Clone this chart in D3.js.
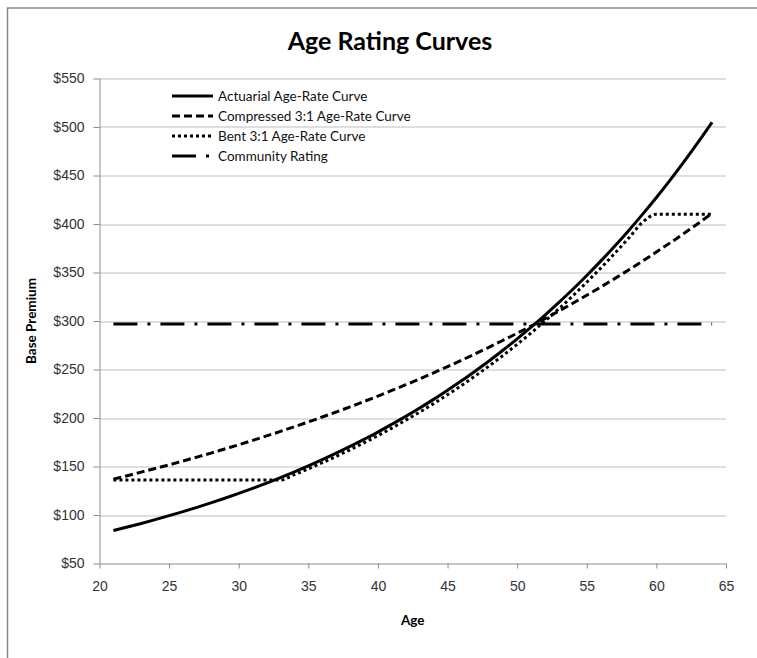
<!DOCTYPE html>
<html>
<head>
<meta charset="utf-8">
<script src="https://cdn.jsdelivr.net/npm/d3@7"></script>
<style>
  body { margin: 0; background: #fff; }
  svg { display: block; font-family: Lato, "Open Sans", sans-serif; }
  .axis path, .axis line { stroke: #8c8c8c; }
  .axis text { fill: #333; font-size: 14px; }
</style>
</head>
<body>
<div></div>
<script>
// ages 21..64
var ages = d3.range(21, 65);

var actuarial = [84.0, 87.6, 91.3, 95.2, 99.3, 103.5, 107.9, 112.5, 117.3, 122.3,
    127.5, 132.9, 138.6, 144.5, 150.6, 157.0, 163.7, 170.7, 178.0, 185.5,
    193.5, 201.7, 210.3, 219.2, 228.6, 238.3, 248.5, 259.0, 270.1, 281.6,
    293.6, 306.1, 319.1, 332.7, 346.9, 361.7, 377.1, 393.1, 409.9, 427.3,
    445.5, 464.5, 484.3, 504.9];

var compressed = [137.0, 140.5, 144.2, 147.9, 151.7, 155.7, 159.7, 163.8, 168.1, 172.4,
    176.9, 181.5, 186.2, 191.0, 195.9, 201.0, 206.2, 211.5, 217.0, 222.6,
    228.4, 234.3, 240.3, 246.6, 252.9, 259.5, 266.2, 273.1, 280.2, 287.4,
    294.8, 302.5, 310.3, 318.3, 326.6, 335.0, 343.7, 352.6, 361.7, 371.1,
    380.7, 390.5, 400.6, 411.0];

var bent = [136, 136, 136, 136, 136, 136, 136, 136, 136, 136,
    136, 136, 136, 141.6, 147.6, 153.9, 160.4, 167.3, 174.4, 181.8,
    189.6, 197.7, 206.1, 214.8, 224.0, 233.5, 243.5, 253.8, 264.7, 276.0,
    287.7, 300.0, 312.7, 326.0, 340.0, 354.5, 369.6, 385.2, 401.7, 410,
    410, 410, 410, 410];

var community = [297, 297, 297, 297, 297, 297, 297, 297, 297, 297,
    297, 297, 297, 297, 297, 297, 297, 297, 297, 297,
    297, 297, 297, 297, 297, 297, 297, 297, 297, 297,
    297, 297, 297, 297, 297, 297, 297, 297, 297, 297,
    297, 297, 297, 297];

var seriesNames = ["Actuarial Age-Rate Curve", "Compressed 3:1 Age-Rate Curve",
    "Bent 3:1 Age-Rate Curve", "Community Rating"];
var xTicks = [20, 25, 30, 35, 40, 45, 50, 55, 60, 65];
var yTicks = [50, 100, 150, 200, 250, 300, 350, 400, 450, 500, 550];

var widthSvg = 757,
    heightSvg = 658;

var svg = d3.select("div").append("svg")
    .attr("width", widthSvg)
    .attr("height", heightSvg),
    margin = {
        top: 78.5,
        right: 31,
        bottom: 94.5,
        left: 99.5
    },
    width = widthSvg - margin.left - margin.right,
    height = heightSvg - margin.top - margin.bottom,
    g = svg.append("g").attr("transform",
        "translate(" + margin.left + "," + margin.top + ")");

// chart frame
svg.append("rect")
    .attr("x", 7.5)
    .attr("y", 8)
    .attr("width", 900)
    .attr("height", 900)
    .attr("fill", "none")
    .attr("stroke", "#8a8a8a")
    .attr("stroke-width", 1.5);

var xScale = d3.scaleLinear()
    .domain([20, 65])
    .range([0, width]);

var yScale = d3.scaleLinear()
    .domain([50, 550])
    .range([height, 0]);

// gridlines
g.append("g")
    .selectAll("line")
    .data(yTicks.slice(1))
    .enter().append("line")
    .attr("x1", 0)
    .attr("x2", width)
    .attr("y1", function (d) { return Math.round(yScale(d)) + 0.5; })
    .attr("y2", function (d) { return Math.round(yScale(d)) + 0.5; })
    .attr("stroke", "#bebebe");

g.append("g")
    .attr("class", "axis")
    .call(d3.axisLeft(yScale).tickValues(yTicks).tickSize(6).tickPadding(9)
        .tickFormat(function (d) { return "$" + d; }))
    .call(function (a) { a.select(".domain").attr("d", "M0.5," + height + "V0"); });

g.append("g")
    .attr("class", "axis")
    .attr("transform", "translate(0," + height + ")")
    .call(d3.axisBottom(xScale).tickValues(xTicks).tickSize(5).tickPadding(13))
    .call(function (a) { a.select(".domain").attr("d", "M0," + 0.5 + "H" + width); });

var line = d3.line()
    .curve(d3.curveMonotoneX)
    .x(function (d) { return xScale(d[0]); })
    .y(function (d) { return yScale(d[1]); });

var styles = [
    { dash: null },
    { dash: "8,4" },
    { dash: "3,3" },
    { dash: "24,10,3,10" }
];
var allSeries = [actuarial, compressed, bent, community];

g.append("g")
    .selectAll("path")
    .data(allSeries)
    .enter().append("path")
    .attr("fill", "none")
    .attr("stroke", "#000")
    .attr("stroke-width", 3)
    .attr("stroke-dasharray", function (d, i) { return styles[i].dash; })
    .attr("d", function (d) {
        return line(ages.map(function (a, j) { return [a, d[j]]; }));
    });

// title
svg.append("text")
    .attr("x", 390)
    .attr("y", 50)
    .attr("text-anchor", "middle")
    .attr("font-size", 25)
    .attr("font-weight", "bold")
    .text("Age Rating Curves");

svg.append("text")
    .attr("x", margin.left + width / 2)
    .attr("y", 625)
    .attr("text-anchor", "middle")
    .attr("font-size", 13.5)
    .attr("font-weight", "bold")
    .text("Age");

svg.append("text")
    .attr("transform", "translate(36," + (margin.top + height / 2) + ") rotate(-90)")
    .attr("text-anchor", "middle")
    .attr("font-size", 13.5)
    .attr("font-weight", "bold")
    .text("Base Premium");

// legend
var legend = svg.append("g")
    .attr("font-size", 13.5)
    .selectAll("g")
    .data(seriesNames)
    .enter().append("g")
    .attr("transform", function (d, i) {
        return "translate(172," + (96 + i * 20) + ")";
    });

legend.append("line")
    .attr("x1", 0)
    .attr("x2", 41)
    .attr("stroke", "#000")
    .attr("stroke-width", 3)
    .attr("stroke-dasharray", function (d, i) { return styles[i].dash; });

legend.append("text")
    .attr("x", 46)
    .attr("dy", "0.35em")
    .attr("fill", "#111")
    .text(function (d) { return d; });
</script>
</body>
</html>
